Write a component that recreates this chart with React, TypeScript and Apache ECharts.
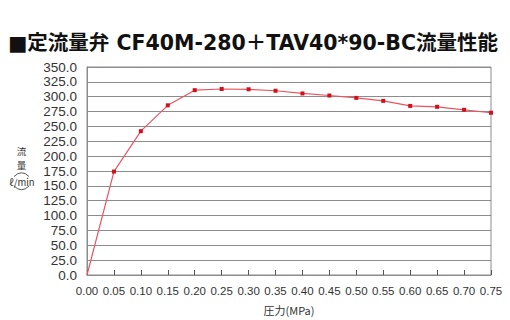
import React, { useEffect, useRef } from "react";
import * as echarts from "echarts";

const pressures = ["0.00","0.05","0.10","0.15","0.20","0.25","0.30","0.35","0.40","0.45","0.50","0.55","0.60","0.65","0.70","0.75"];
const flows = [0, 174, 242, 285.5, 311, 313, 312.5, 310, 305.5, 302, 298, 293, 284.5, 283, 278, 273];

const titleText = "■定流量弁 CF40M-280＋TAV40*90-BC流量性能";
const xName = "圧力(MPa)";
const yNameChars = ["流", "量"];
const yNameUnit = "ℓ/min";

export default function App() {
  const ref = useRef<HTMLDivElement>(null);
  useEffect(() => {
    const chart = echarts.init(ref.current!, null, { renderer: "svg" });
    const cjk = "'Noto Sans CJK JP', sans-serif";
    chart.setOption({
      animation: false,
      backgroundColor: "#ffffff",
      title: {
        text: titleText,
        left: 3,
        top: 28,
        textStyle: { fontSize: 20.5, fontWeight: "bold", color: "#111", fontFamily: "'DejaVu Sans', 'Noto Sans CJK JP', sans-serif" },
      },
      grid: { left: 87, right: 19, top: 67, bottom: 43, show: true, borderColor: "#8c8c8c", borderWidth: 1 },
      xAxis: {
        type: "category",
        data: pressures,
        boundaryGap: false,
        axisLine: { lineStyle: { color: "#8c8c8c" } },
        axisTick: { inside: true, length: 5, interval: 0, lineStyle: { color: "#555" }, alignWithLabel: true },
        axisLabel: { color: "#333", fontSize: 11.5, margin: 10, interval: 0, fontFamily: "'Liberation Sans', Arial, sans-serif" },
        name: xName,
        nameLocation: "middle",
        nameGap: 29,
        nameTextStyle: { color: "#333", fontSize: 11, fontFamily: cjk },
      },
      yAxis: {
        type: "value",
        min: 0,
        max: 350,
        interval: 25,
        axisLine: { show: true, lineStyle: { color: "#8c8c8c" } },
        axisTick: { show: false },
        splitLine: { lineStyle: { color: "#8c8c8c", width: 1 } },
        axisLabel: { color: "#333", fontSize: 13.5, margin: 10, formatter: (v: number) => v.toFixed(1), fontFamily: "'Liberation Sans', Arial, sans-serif" },
      },
      graphic: [
        { type: "text", x: 21.5, y: 151, style: { text: yNameChars[0], fontSize: 9.5, lineHeight: 10, fill: "#333", align: "center", verticalAlign: "middle", fontFamily: cjk } },
        { type: "text", x: 21.5, y: 164.5, style: { text: yNameChars[1], fontSize: 9.5, lineHeight: 10, fill: "#333", align: "center", verticalAlign: "middle", fontFamily: cjk } },
        { type: "bezierCurve", shape: { x1: 14, y1: 176.5, cpx1: 21.5, cpy1: 169, x2: 29, y2: 176.5 }, style: { stroke: "#444", lineWidth: 0.9, fill: null } },
        { type: "text", x: 22, y: 181.5, style: { text: yNameUnit, fontSize: 9.5, lineHeight: 10, fill: "#333", align: "center", verticalAlign: "middle", fontFamily: cjk } },
        { type: "bezierCurve", shape: { x1: 14, y1: 186, cpx1: 21.5, cpy1: 193.5, x2: 29, y2: 186 }, style: { stroke: "#444", lineWidth: 0.9, fill: null } },
      ],
      series: [
        {
          type: "line",
          data: flows.map((v, i) => (i === 0 ? { value: v, symbol: "none" } : v)),
          symbol: "rect",
          symbolSize: 4,
          lineStyle: { color: "#ea5560", width: 1.2 },
          itemStyle: { color: "#d2101c" },
          showAllSymbol: true,
        },
      ],
    });
    return () => chart.dispose();
  }, []);
  return <div ref={ref} style={{ width: 510, height: 320, position: "absolute", left: 0, top: 0 }} />;
}
